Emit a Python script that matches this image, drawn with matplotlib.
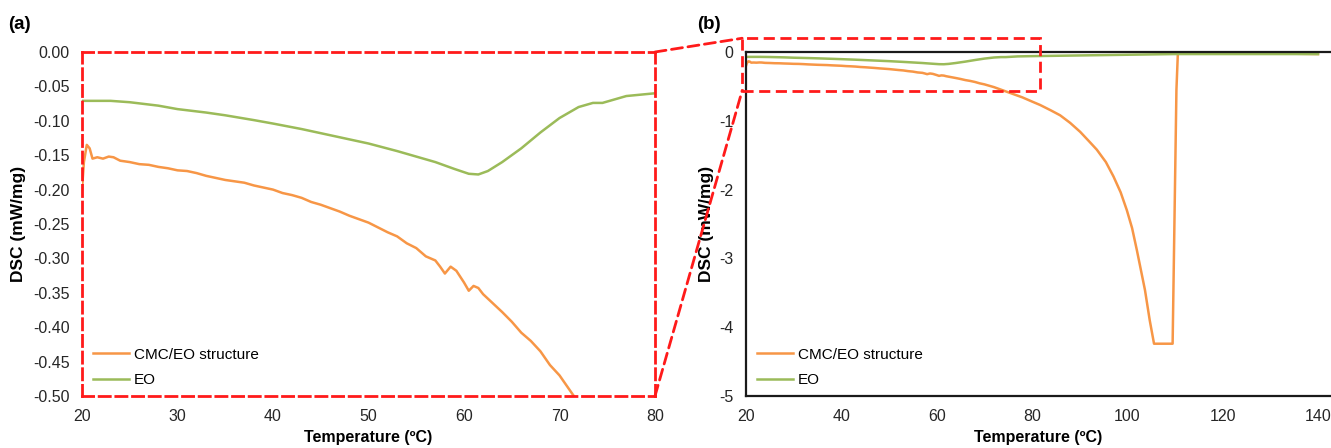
import matplotlib
matplotlib.use("Agg")
import matplotlib.pyplot as plt
from matplotlib.patches import Rectangle, ConnectionPatch
from matplotlib.ticker import FormatStrFormatter, FixedLocator

plt.rcParams['font.family'] = ['Liberation Sans', 'DejaVu Sans']
plt.rcParams['axes.unicode_minus'] = False

# ---- data ----
cmc_T = [20.0, 20.2, 20.5, 20.8, 21.1, 21.6, 22.2, 22.8, 23.3, 24, 25, 26, 27, 28, 29, 30,
         31, 32, 33, 34, 35, 36, 37, 38, 39, 40, 41, 42, 43, 44, 45, 46, 47, 48, 49, 50,
         51, 52, 53, 54, 55, 56, 57, 57.5, 58, 58.6, 59.2, 60, 60.5, 61, 61.5, 62, 63,
         64, 65, 66, 67, 68, 69, 70, 71, 72, 74, 76, 78, 80, 81.7, 84, 85.9, 88, 90.1,
         92, 93.6, 95.5, 97.1, 98.6, 99.9, 101, 102.0, 103.7, 104.7, 105.6, 109.5,
         110.3, 110.6, 112, 120, 130, 140]
cmc_dsc = [-0.200, -0.160, -0.135, -0.140, -0.155, -0.153, -0.155, -0.152, -0.153, -0.158,
           -0.160, -0.163, -0.164, -0.167, -0.169, -0.172, -0.173, -0.176, -0.180, -0.183,
           -0.186, -0.188, -0.190, -0.194, -0.197, -0.200, -0.205, -0.208, -0.212, -0.218,
           -0.222, -0.227, -0.232, -0.238, -0.243, -0.248, -0.255, -0.262, -0.268, -0.278,
           -0.285, -0.297, -0.303, -0.312, -0.322, -0.312, -0.318, -0.335, -0.347, -0.340,
           -0.343, -0.352, -0.365, -0.378, -0.392, -0.408, -0.420, -0.435, -0.455, -0.470,
           -0.490, -0.510, -0.56, -0.61, -0.66, -0.72, -0.77, -0.85, -0.92, -1.03, -1.16,
           -1.30, -1.42, -1.60, -1.81, -2.04, -2.30, -2.56, -2.88, -3.46, -3.90, -4.24,
           -4.24, -0.55, -0.02, -0.02, -0.02, -0.02, -0.03]

eo_T = [20, 22, 23, 25, 28, 30, 33, 35, 38, 40, 43, 45, 48, 50, 53, 55, 57, 59, 60.5,
        61.5, 62.5, 64, 66, 68, 70, 72, 73.5, 74.5, 75.5, 77, 80, 85, 90, 100, 110, 120, 140]
eo_dsc = [-0.071, -0.071, -0.071, -0.073, -0.078, -0.083, -0.088, -0.092, -0.099, -0.104,
          -0.112, -0.118, -0.127, -0.133, -0.144, -0.152, -0.160, -0.170, -0.177, -0.178,
          -0.173, -0.160, -0.140, -0.117, -0.096, -0.080, -0.074, -0.074, -0.070, -0.064,
          -0.060, -0.055, -0.050, -0.040, -0.030, -0.030, -0.030]

labels = ["CMC/EO structure", "EO"]
colors = ["#F79646", "#9BBB59"]

xticks_a = [20, 30, 40, 50, 60, 70, 80]
yticks_a = [0.00, -0.05, -0.10, -0.15, -0.20, -0.25, -0.30, -0.35, -0.40, -0.45, -0.50]
xticks_b = [20, 40, 60, 80, 100, 120, 140]
yticks_b = [0, -1, -2, -3, -4, -5]
zoom_box = (19.2, -0.56, 81.6, 0.2)   # x0, y0, x1, y1 in panel (b) data units

W, H = 1331, 448
fig = plt.figure(figsize=(W / 100, H / 100), dpi=100)

def fx(p):
    return p / W

def fy(p):
    return 1 - p / H

ax_a = fig.add_axes([fx(82), fy(396), fx(655) - fx(82), fy(52) - fy(396)])
ax_b = fig.add_axes([fx(746), fy(396), 1 - fx(746), fy(52) - fy(396)])

tick_font = 11.5
red = "#FF1A1A"

for ax in (ax_a, ax_b):
    ax.plot(cmc_T, cmc_dsc, color=colors[0], lw=1.8, label=labels[0])
    ax.plot(eo_T, eo_dsc, color=colors[1], lw=1.8, label=labels[1])
    ax.tick_params(length=0, labelsize=tick_font, colors="#262626")
    ax.tick_params(axis="x", pad=9)
    ax.tick_params(axis="y", pad=9)
    ax.set_ylabel("DSC (mW/mg)", fontsize=12.5, fontweight="bold")
    ax.set_xlabel("Temperature (ºC)", fontsize=11.5, fontweight="bold", labelpad=5)
    ax.legend(loc="lower left", bbox_to_anchor=(0.0, -0.005), frameon=False,
              fontsize=11, handlelength=2.4, handletextpad=0.3, labelspacing=0.75,
              borderaxespad=0.3)

# panel (a)
ax_a.set_xlim(20, 80)
ax_a.set_ylim(-0.5, 0)
ax_a.xaxis.set_major_locator(FixedLocator(xticks_a))
ax_a.yaxis.set_major_locator(FixedLocator(yticks_a))
ax_a.yaxis.set_major_formatter(FormatStrFormatter("%.2f"))
for s in ax_a.spines.values():
    s.set_color(red)
    s.set_linewidth(2.0)
    s.set_linestyle((0, (4, 2)))
ax_a.yaxis.labelpad = 5

# panel (b)
ax_b.set_xlim(20, 20 + (W - 746) / ((1318 - 746) / 120))
ax_b.set_ylim(-5, 0)
ax_b.xaxis.set_major_locator(FixedLocator(xticks_b))
ax_b.yaxis.set_major_locator(FixedLocator(yticks_b))
ax_b.yaxis.set_major_formatter(FormatStrFormatter("%d"))
ax_b.spines["right"].set_visible(False)
for k in ("left", "top", "bottom"):
    ax_b.spines[k].set_color("#1a1a1a")
    ax_b.spines[k].set_linewidth(1.6)
ax_b.yaxis.labelpad = 4

x0, y0, x1, y1 = zoom_box
rect = Rectangle((x0, y0), x1 - x0, y1 - y0, fill=False, edgecolor=red,
                 lw=2.0, linestyle=(0, (4, 2)), clip_on=False, zorder=5)
ax_b.add_patch(rect)

for (ya, yb) in ((0.0, y1), (-0.5, y0)):
    con = ConnectionPatch(xyA=(80, ya), coordsA=ax_a.transData,
                          xyB=(x0, yb), coordsB=ax_b.transData,
                          color=red, lw=2.0, linestyle=(0, (4, 2)), zorder=5)
    fig.add_artist(con)

fig.text(fx(8), fy(29), "(a)", fontsize=13.5, fontweight="bold")
fig.text(fx(697), fy(29), "(b)", fontsize=13.5, fontweight="bold")

fig.savefig("out.png", dpi=100)
